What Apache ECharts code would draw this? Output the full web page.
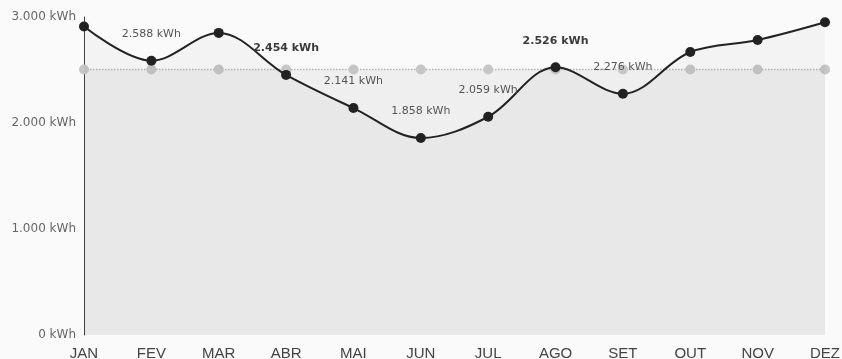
<!DOCTYPE html>
<html>
<head>
<meta charset="utf-8">
<script src="https://cdn.jsdelivr.net/npm/echarts@6/dist/echarts.min.js"></script>
<style>
  html, body { margin: 0; padding: 0; background: #fafafa; }
  #chart { width: 842px; height: 359px; }
</style>
</head>
<body>
<div id="chart"></div>
<script>
// Monthly energy consumption (kWh) and the yearly average
const months = ['JAN', 'FEV', 'MAR', 'ABR', 'MAI', 'JUN', 'JUL', 'AGO', 'SET', 'OUT', 'NOV', 'DEZ'];
const consumption = [2910, 2588, 2850, 2454, 2141, 1858, 2059, 2526, 2276, 2670, 2783, 2950];
const average = [2505, 2505, 2505, 2505, 2505, 2505, 2505, 2505, 2505, 2505, 2505, 2505];
// Months whose value is printed, and which of those are emphasised
const labelled = ['FEV', 'ABR', 'MAI', 'JUN', 'JUL', 'AGO', 'SET'];
const emphasised = ['ABR', 'AGO'];
const yTicks = [0, 1000, 2000, 3000];

const fmt = v => v.toString().replace(/\B(?=(\d{3})+(?!\d))/g, '.') + ' kWh';

const mainData = consumption.map((v, i) => {
  const m = months[i];
  const item = { value: v };
  if (labelled.includes(m)) {
    const big = emphasised.includes(m);
    item.label = {
      show: true,
      position: 'top',
      distance: 16,
      formatter: p => fmt(p.value),
      fontFamily: 'DejaVu Sans, sans-serif',
      fontSize: 11,
      fontWeight: big ? 'bold' : 'normal',
      color: big ? '#3a3a3a' : '#555'
    };
  }
  return item;
});

const chart = echarts.init(document.getElementById('chart'), null, { renderer: 'canvas' });
chart.setOption({
  animation: false,
  backgroundColor: '#fafafa',
  grid: { left: 84, right: 17, top: 17, bottom: 24, outerBoundsMode: 'none', containLabel: false },
  xAxis: {
    type: 'category',
    data: months,
    boundaryGap: false,
    axisLine: { show: false },
    axisTick: { show: false },
    axisLabel: {
      margin: 11,
      fontFamily: 'Liberation Sans, Arial, sans-serif',
      fontSize: 15,
      color: '#444',
      interval: 0
    }
  },
  yAxis: {
    type: 'value',
    min: yTicks[0],
    max: yTicks[yTicks.length - 1],
    interval: 1000,
    axisLine: { show: true, lineStyle: { color: '#444', width: 1 } },
    axisTick: { show: false },
    splitLine: { show: false },
    axisLabel: {
      margin: 8,
      formatter: v => fmt(v),
      fontFamily: 'DejaVu Sans, sans-serif',
      fontSize: 12,
      color: '#666'
    }
  },
  series: [
    {
      name: 'Média',
      type: 'line',
      data: average,
      symbol: 'circle',
      symbolSize: 10,
      itemStyle: { color: '#c6c6c6' },
      lineStyle: { color: '#b4b4b4', width: 1.5, type: 'dotted' },
      areaStyle: { color: 'rgba(0,0,0,0.06)' },
      z: 2
    },
    {
      name: 'Consumo',
      type: 'line',
      data: mainData,
      smooth: 0.35,
      symbol: 'circle',
      symbolSize: 10,
      itemStyle: { color: '#222' },
      lineStyle: { color: '#222', width: 2 },
      areaStyle: { color: 'rgba(0,0,0,0.04)' },
      z: 3
    }
  ]
});
</script>
</body>
</html>
